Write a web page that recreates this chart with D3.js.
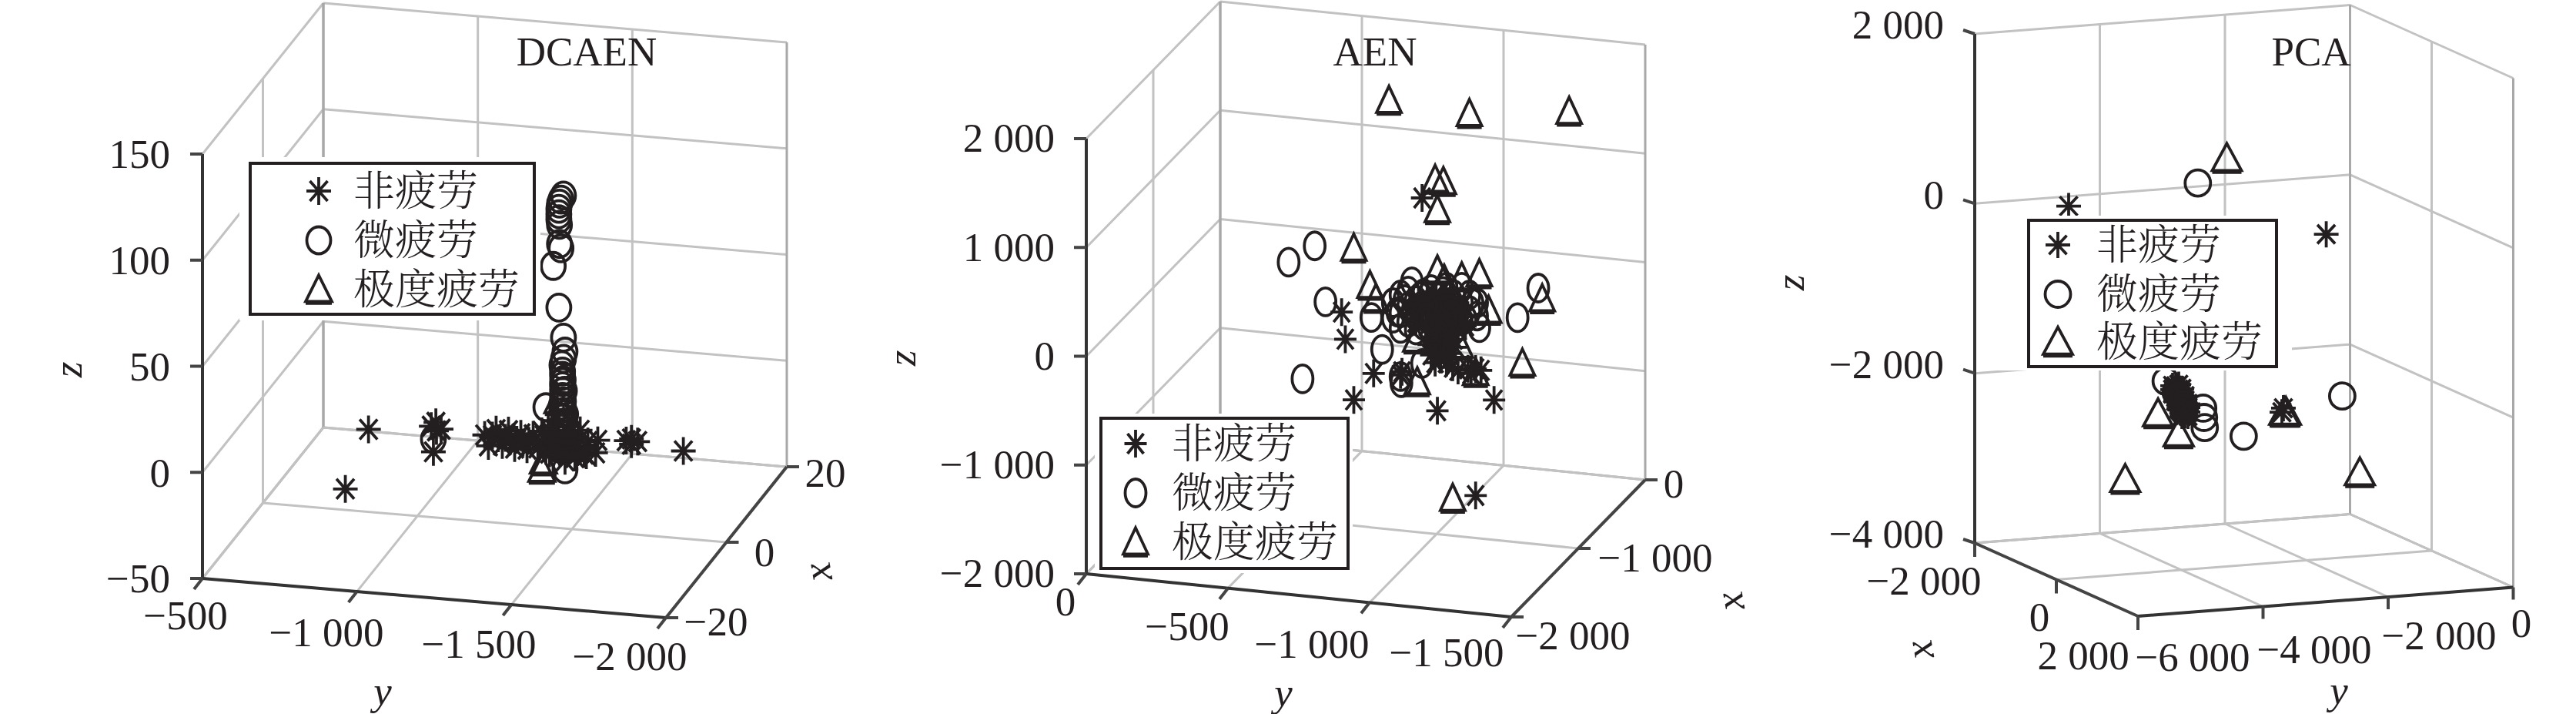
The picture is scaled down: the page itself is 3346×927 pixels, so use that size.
<!DOCTYPE html>
<html><head><meta charset="utf-8">
<script src="https://cdn.jsdelivr.net/npm/d3@7"></script>
<style>html,body{margin:0;background:#fff}svg{display:block}</style></head>
<body><svg id="c" width="3346" height="927"></svg>
<script>
const legendLabels = ['非疲劳','微疲劳','极度疲劳'];
const T='\u00A0', M='\u2212';
// Tick values and labels
const dcaenZTicks=[150,100,50,0,-50], dcaenZLabels=['150','100','50','0',M+'50'];
const dcaenYTicks=[-500,-1000,-1500,-2000], dcaenYLabels=[M+'500',M+'1'+T+'000',M+'1'+T+'500',M+'2'+T+'000'];
const dcaenXTicks=[20,0,-20], dcaenXLabels=['20','0',M+'20'];
const aenZTicks=[2000,1000,0,-1000,-2000], aenZLabels=['2'+T+'000','1'+T+'000','0',M+'1'+T+'000',M+'2'+T+'000'];
const aenYTicks=[0,-500,-1000,-1500], aenYLabels=['0',M+'500',M+'1'+T+'000',M+'1'+T+'500'];
const aenXTicks=[0,-1000,-2000], aenXLabels=['0',M+'1'+T+'000',M+'2'+T+'000'];
const pcaZTicks=[2000,0,-2000,-4000], pcaZLabels=['2'+T+'000','0',M+'2'+T+'000',M+'4'+T+'000'];
const pcaYTicks=[-6000,-4000,-2000,0], pcaYLabels=[M+'6'+T+'000',M+'4'+T+'000',M+'2'+T+'000','0'];
const pcaXTicks=[-2000,0,2000], pcaXLabels=[M+'2'+T+'000','0','2'+T+'000'];
// Points as [y, z]; depth along x cannot be read, so each series sits on one x plane.
const dcaenStars=[[-832,-13],[-1052,-11],[-1035,-9],[-1067,-10],[-1050,-7],[-1042,-21],[-757,-42],
 [-1208,-11],[-1233,-11],[-1252,-12],[-1275,-11.5],[-1290,-12],[-1312,-12],[-1332,-13],[-1351,-12],
 [-1393,-12],[-1418,-11],[-1443,-13],[-1468,-9],[-1492,-13],[-1517,-9],[-1450,-16],[-1505,-16],[-1480,-7],[-1406,-16],
 [-1542,-10],[-1567,-15],[-1574,-9],[-1537,-16.5],[-1683,-9.5],[-1666,-8],[-1703,-8],[-1683,-7],[-1851,-10.6],
 [-1393,-7],[-1418,-17],[-1436,-6],[-1455,-15],[-1468,-20],[-1485,-6],[-1500,-18],[-1517,-5],[-1530,-16],[-1443,-10],[-1475,-10],
 [-1220,-16],[-1245,-8],[-1265,-15],[-1285,-8],[-1305,-16],[-1325,-9],[-1345,-16],[-1365,-9],[-1380,-15],[-1400,-9],[-1430,-8],[-1460,-14],[-1490,-9],[-1425,-14]];
const dcaenCircles=[[-1463,105],[-1455,103],[-1450,101],[-1448,98.5],[-1448,96],[-1448,93.6],[-1450,91],[-1450,82],[-1455,80],
 [-1430,71.4],[-1448,52],[-1463,38],[-1468,31.5],[-1463,28],[-1460,22],[-1460,20],[-1460,17],[-1460,15],[-1460,12.5],[-1460,10],
 [-1463,8],[-1463,5],[-1463,3],[-1463,0],[-1463,-2],[-1463,-8],[-1406,4.5],[-1468,-24],[-1042,-15],
 [-1458,25],[-1462,18],[-1466,13],[-1456,6],[-1470,2],[-1452,0],[-1475,-6],[-1450,-5],[-1470,-12],[-1455,-14]];
const dcaenTriangles=[[-1393,-25],[-1497,-5],[-1463,-2],[-1445,8],[-1475,-12],[-1398,-21]];
const aenStars=[[-653,-83],[-666,-329],[-766,-617],[-696,-879],[-991,-901],[-1191,-749],[-1126,-1644],[-861,-606],[-866,-576],
 [-1064,-511],[-1045,-487],[-1099,-487],[-1126,-480],[-1145,-489],[-1110,-527],[-937,1041],
 [-955,118],[-983,161],[-1010,118],[-1037,154],[-1064,111],[-942,7],[-969,-21],[-996,21],[-1023,-21],[-1050,14],[-1077,-7],
 [-955,-132],[-983,-89],[-1010,-139],[-1037,-89],[-1064,-139],[-969,-236],[-996,-214],[-1023,-257],[-1050,-229],
 [-983,-339],[-1010,-311],[-1037,-361],[-969,-393],[-1002,-427],[-1023,-450],[-983,-461],[-915,-107],[-928,39],[-1090,-96],
 [-975,60],[-1005,70],[-1035,50],[-990,-60],[-1020,-50],[-1045,-60],[-975,-180],[-1005,-170],[-1035,-190],[-990,-290],
 [-1020,-280],[-1000,-380],[-960,-300],[-1055,-300],[-1000,-120],[-985,-10],[-1015,0],[-960,40],[-1070,60],[-930,90]];
const aenCircles=[[-466,326],[-558,500],[-596,-4],[-758,-105],[-796,-388],[-515,-733],[-937,-480],[-864,-677],[-861,-621],
 [-1274,30],[-1347,321],[-1139,-98],[-901,261],
 [-834,51],[-834,-92],[-861,129],[-861,-35],[-861,-178],[-888,172],[-888,29],[-888,-114],[-915,93],[-915,-50],[-915,-179],
 [-942,164],[-942,14],[-942,-129],[-969,207],[-969,79],[-969,-79],[-996,143],[-996,-14],[-1023,243],[-1023,79],[-1023,-79],
 [-1050,179],[-1050,14],[-1077,257],[-1077,114],[-1077,-50],[-1104,193],[-1104,50],[-1131,129],[-1131,7],
 [-875,90],[-905,-20],[-930,130],[-955,-60],[-1010,200],[-1040,110],[-1065,30],[-1090,-30],[-1115,120],[-850,-30]];
const aenTriangles=[[-820,1905],[-1104,1859],[-1456,1972],[-983,1222],[-1012,1209],[-991,945],[-696,514],[-753,186],[-1139,395],
 [-991,391],[-1077,350],[-1015,312],[-1172,68],[-1361,224],[-1291,-387],[-920,-656],[-915,-264],[-1126,-516],[-1072,-280],[-1045,-1694],[-774,71]];
const pcaStars=[[-5803,391],[-1685,-175],[-2394,-2232],[-2370,-2186],
 [-4141,-1822],[-4092,-1830],[-4043,-1815],[-4141,-1867],[-4092,-1860],[-4043,-1872],[-3993,-1866],
 [-4141,-1912],[-4092,-1905],[-4043,-1918],[-3993,-1910],[-4092,-1958],[-4043,-1950],[-3993,-1962],[-3944,-1955],
 [-4092,-2003],[-4043,-2010],[-3993,-1998],[-3944,-2006],[-4043,-2049],[-3993,-2055],[-3944,-2044],[-3895,-2050],
 [-4043,-2094],[-3993,-2088],[-3944,-2100],[-3895,-2092],[-3993,-2139],[-3944,-2130],[-3895,-2145],[-3993,-2185],[-3944,-2178],[-3895,-2190],
 [-4115,-1890],[-4068,-1935],[-4018,-1980],[-4068,-1985],[-4018,-2030],[-3968,-2025],[-3968,-2070],[-4018,-2115],[-3968,-2115],[-3920,-2070],[-3920,-2115],[-3968,-2160]];
const pcaCircles=[[-3738,545],[-3005,-2480],[-1429,-2096],[-3640,-2223],[-3628,-2343],[-3653,-2113],[-4251,-1760],
 [-4043,-1950],[-3993,-2050],[-3944,-2100],[-4092,-1900]];
const pcaTriangles=[[-3274,810],[-4044,-2391],[-4374,-2136],[-4899,-2881],[-1148,-3015],[-2357,-2234],[-2330,-2234]];

const INK='#231f20', GRID='#c2c2c2', WALL='#a8a8a8', SERIF='"Liberation Serif",serif', CJK='"Noto Serif CJK SC","Noto Sans CJK SC",sans-serif';
const svg=d3.select('#c');

function starPath(rx,ry){const p=d3.path(),d=.72;
 p.moveTo(-rx,0);p.lineTo(rx,0);p.moveTo(0,-ry);p.lineTo(0,ry);
 p.moveTo(-rx*d,-ry*d);p.lineTo(rx*d,ry*d);p.moveTo(-rx*d,ry*d);p.lineTo(rx*d,-ry*d);return p.toString();}
function circlePath(rx,ry){return `M${-rx},0A${rx},${ry} 0 1,1 ${rx},0A${rx},${ry} 0 1,1 ${-rx},0Z`;}
function triPath(w,h){const p=d3.path();p.moveTo(0,-h*.55);p.lineTo(w,h*.45);p.lineTo(-w,h*.45);p.closePath();
 p.moveTo(-w,h*.45+2.5);p.lineTo(w,h*.45+2.5);return p.toString();}

const panels=[
 {title:'DCAEN',tp:[762,68],A:[263,751],ex:[157,-196],ey:[602,51],ez:551,
  xd:[-20,20],yd:[-500,-2000],zd:[-50,150],midX:1,xWall:20,yWall:-500,frontX:-20,frontY:-2000,zAtX:-20,zAtY:-500,
  xTicks:dcaenXTicks,yTicks:dcaenYTicks,zTicks:dcaenZTicks,xLab:dcaenXLabels,yLab:dcaenYLabels,zLab:dcaenZLabels,
  xPos:[[1072,615],[993,718],[930,808]],yPos:[[241,800],[424,822],[622,837],[818,853]],zEnd:221,zOff:1,zt:[-16,0],
  xt:[16,0],yt:[-11,14],lz:[89,480],ly:[497,898],lx:[1062,743],
  leg:[325,212,369,196],pad:[14,8,8,8],mk:414,txt:459,rows:[248,312,376],
  stars:dcaenStars,circles:dcaenCircles,tris:dcaenTriangles,sr:[16,18],cr:[15.5,17.5],tr:[17,34]},
 {title:'AEN',tp:[1786,68],A:[1411,745],ex:[174,-178],ey:[552,56],ez:565,
  xd:[-2000,0],yd:[0,-1500],zd:[-2000,2000],midX:-950,xWall:0,yWall:0,frontX:-2000,frontY:-1500,zAtX:-2000,zAtY:0,
  xTicks:aenXTicks,yTicks:aenYTicks,zTicks:aenZTicks,xLab:aenXLabels,yLab:aenYLabels,zLab:aenZLabels,
  xPos:[[2174,629],[2150,725],[2043,826]],yPos:[[1384,782],[1542,814],[1704,837],[1879,848]],zEnd:1370,zOff:0,zt:[-16,0],
  xt:[16,0],yt:[-11,14],lz:[1172,465],ly:[1667,900],lx:[2247,781],
  leg:[1430,543,321,195],pad:[8,6,6,6],mk:1475,txt:1522,rows:[576,640,704],
  stars:aenStars,circles:aenCircles,tris:aenTriangles,sr:[14.5,18],cr:[13.5,18],tr:[16,34]},
 {title:'PCA',tp:[3002,68],A:[2565,705],ex:[212,95],ey:[487.5,-37.5],ez:661,
  xd:[-2000,2000],yd:[-6000,0],zd:[-4000,2000],midX:0,xWall:-2000,yWall:0,frontX:2000,frontY:-6000,zAtX:-2000,zAtY:-6000,
  xTicks:pcaXTicks,yTicks:pcaYTicks,zTicks:pcaZTicks,xLab:pcaXLabels,yLab:pcaYLabels,zLab:pcaZLabels,
  xPos:[[2499,755],[2649,802],[2706,852]],yPos:[[2848,854],[3006,844],[3168,826],[3275,810]],zEnd:2525,zOff:-11,zt:[-15,-5],
  xt:[0,18],yt:[0,16],lz:[2326,367],ly:[3038,897],lx:[2493,844],
  leg:[2635,286,322,190],pad:[40,6,20,5],mk:2673,txt:2723,rows:[318,382,444],
  stars:pcaStars,circles:pcaCircles,tris:pcaTriangles,sr:[16,17],cr:[16.5,17],tr:[19,35]}
];

panels.forEach(c=>{
 const g=svg.append('g');
 const fx=d3.scaleLinear().domain(c.xd).range([0,1]),fy=d3.scaleLinear().domain(c.yd).range([0,1]),fz=d3.scaleLinear().domain(c.zd).range([0,1]);
 const P=(x,y,z)=>[c.A[0]+fx(x)*c.ex[0]+fy(y)*c.ey[0], c.A[1]+fx(x)*c.ex[1]+fy(y)*c.ey[1]-fz(z)*c.ez];
 const line=(a,b,col,w)=>g.append('line').attr('x1',a[0]).attr('y1',a[1]).attr('x2',b[0]).attr('y2',b[1]).attr('stroke',col).attr('stroke-width',w);
 const [x0,x1]=c.xd,[y0,y1]=c.yd,zb=c.zd[0];
 // walls
 c.zTicks.forEach(z=>{line(P(c.xWall,y0,z),P(c.xWall,y1,z),z===zb?WALL:GRID,3);line(P(x0,c.yWall,z),P(x1,c.yWall,z),z===zb?WALL:GRID,3);});
 c.yTicks.forEach(y=>{line(P(c.xWall,y,zb),P(c.xWall,y,c.zd[1]),y===y0||y===y1?WALL:GRID,3);line(P(x0,y,zb),P(x1,y,zb),GRID,3);});
 c.xTicks.forEach(x=>{line(P(x,c.yWall,zb),P(x,c.yWall,c.zd[1]),x===x0||x===x1?WALL:GRID,3);line(P(x,y0,zb),P(x,y1,zb),GRID,3);});
 // axes
 line(P(c.zAtX,c.zAtY,c.zd[0]),P(c.zAtX,c.zAtY,c.zd[1]),'#333',4);
 line(P(c.frontX,y0,zb),P(c.frontX,y1,zb),'#333',4);
 const yFrontEnd=c.frontY;
 line(P(x0,yFrontEnd,zb),P(x1,yFrontEnd,zb),'#444',4);
 const lab=(t,x,y,opt={})=>g.append('text').attr('x',x).attr('y',y).attr('dy','.33em').attr('text-anchor',opt.a||'middle')
   .attr('font-family',SERIF).attr('font-size',opt.s||53).attr('font-style',opt.i?'italic':null).attr('fill',INK)
   .attr('transform',opt.r?`rotate(${opt.r} ${x} ${y})`:null).text(t);
 c.zTicks.forEach((z,i)=>{const p=P(c.zAtX,c.zAtY,z);line(p,[p[0]+c.zt[0],p[1]+c.zt[1]],'#444',4);lab(c.zLab[i],c.zEnd,p[1]+c.zOff,{a:'end'});});
 c.yTicks.forEach((y,i)=>{const p=P(c.frontX,y,zb);line(p,[p[0]+c.yt[0],p[1]+c.yt[1]],'#444',4);lab(c.yLab[i],c.yPos[i][0],c.yPos[i][1]);});
 c.xTicks.forEach((x,i)=>{const p=P(x,yFrontEnd,zb);line(p,[p[0]+c.xt[0],p[1]+c.xt[1]],'#444',4);lab(c.xLab[i],c.xPos[i][0],c.xPos[i][1]);});
 lab('z',c.lz[0],c.lz[1],{i:1,r:-90});lab('y',c.ly[0],c.ly[1],{i:1});lab('x',c.lx[0],c.lx[1],{i:1,r:-100});
 lab(c.title,c.tp[0],c.tp[1]);
 // marks
 const mark=(data,d)=>g.append('g').selectAll('path').data(data).join('path')
   .attr('d',d).attr('fill','none').attr('stroke',INK).attr('stroke-width',3.8)
   .attr('transform',v=>{const p=P(c.midX,v[0],v[1]);return `translate(${p[0]},${p[1]})`;});
 const sp=starPath(...c.sr),cp=circlePath(...c.cr),tp=triPath(...c.tr);
 mark(c.stars,sp);mark(c.circles,cp);mark(c.tris,tp);
 // legend
 const [lx,ly,lw,lh]=c.leg,[pl,pt,pr,pb]=c.pad;
 g.append('rect').attr('x',lx-pl).attr('y',ly-pt).attr('width',lw+pl+pr).attr('height',lh+pt+pb).attr('fill','#fff');
 g.append('rect').attr('x',lx).attr('y',ly).attr('width',lw).attr('height',lh).attr('fill','#fff').attr('stroke',INK).attr('stroke-width',4);
 [sp,cp,tp].forEach((d,i)=>g.append('path').attr('d',d).attr('transform',`translate(${c.mk},${c.rows[i]})`).attr('fill','none').attr('stroke',INK).attr('stroke-width',3.8));
 legendLabels.forEach((t,i)=>g.append('text').attr('x',c.txt).attr('y',c.rows[i]).attr('dy','.36em').attr('font-family',CJK).attr('font-weight',300).attr('font-size',54).attr('fill',INK).text(t));
});
</script></body></html>
